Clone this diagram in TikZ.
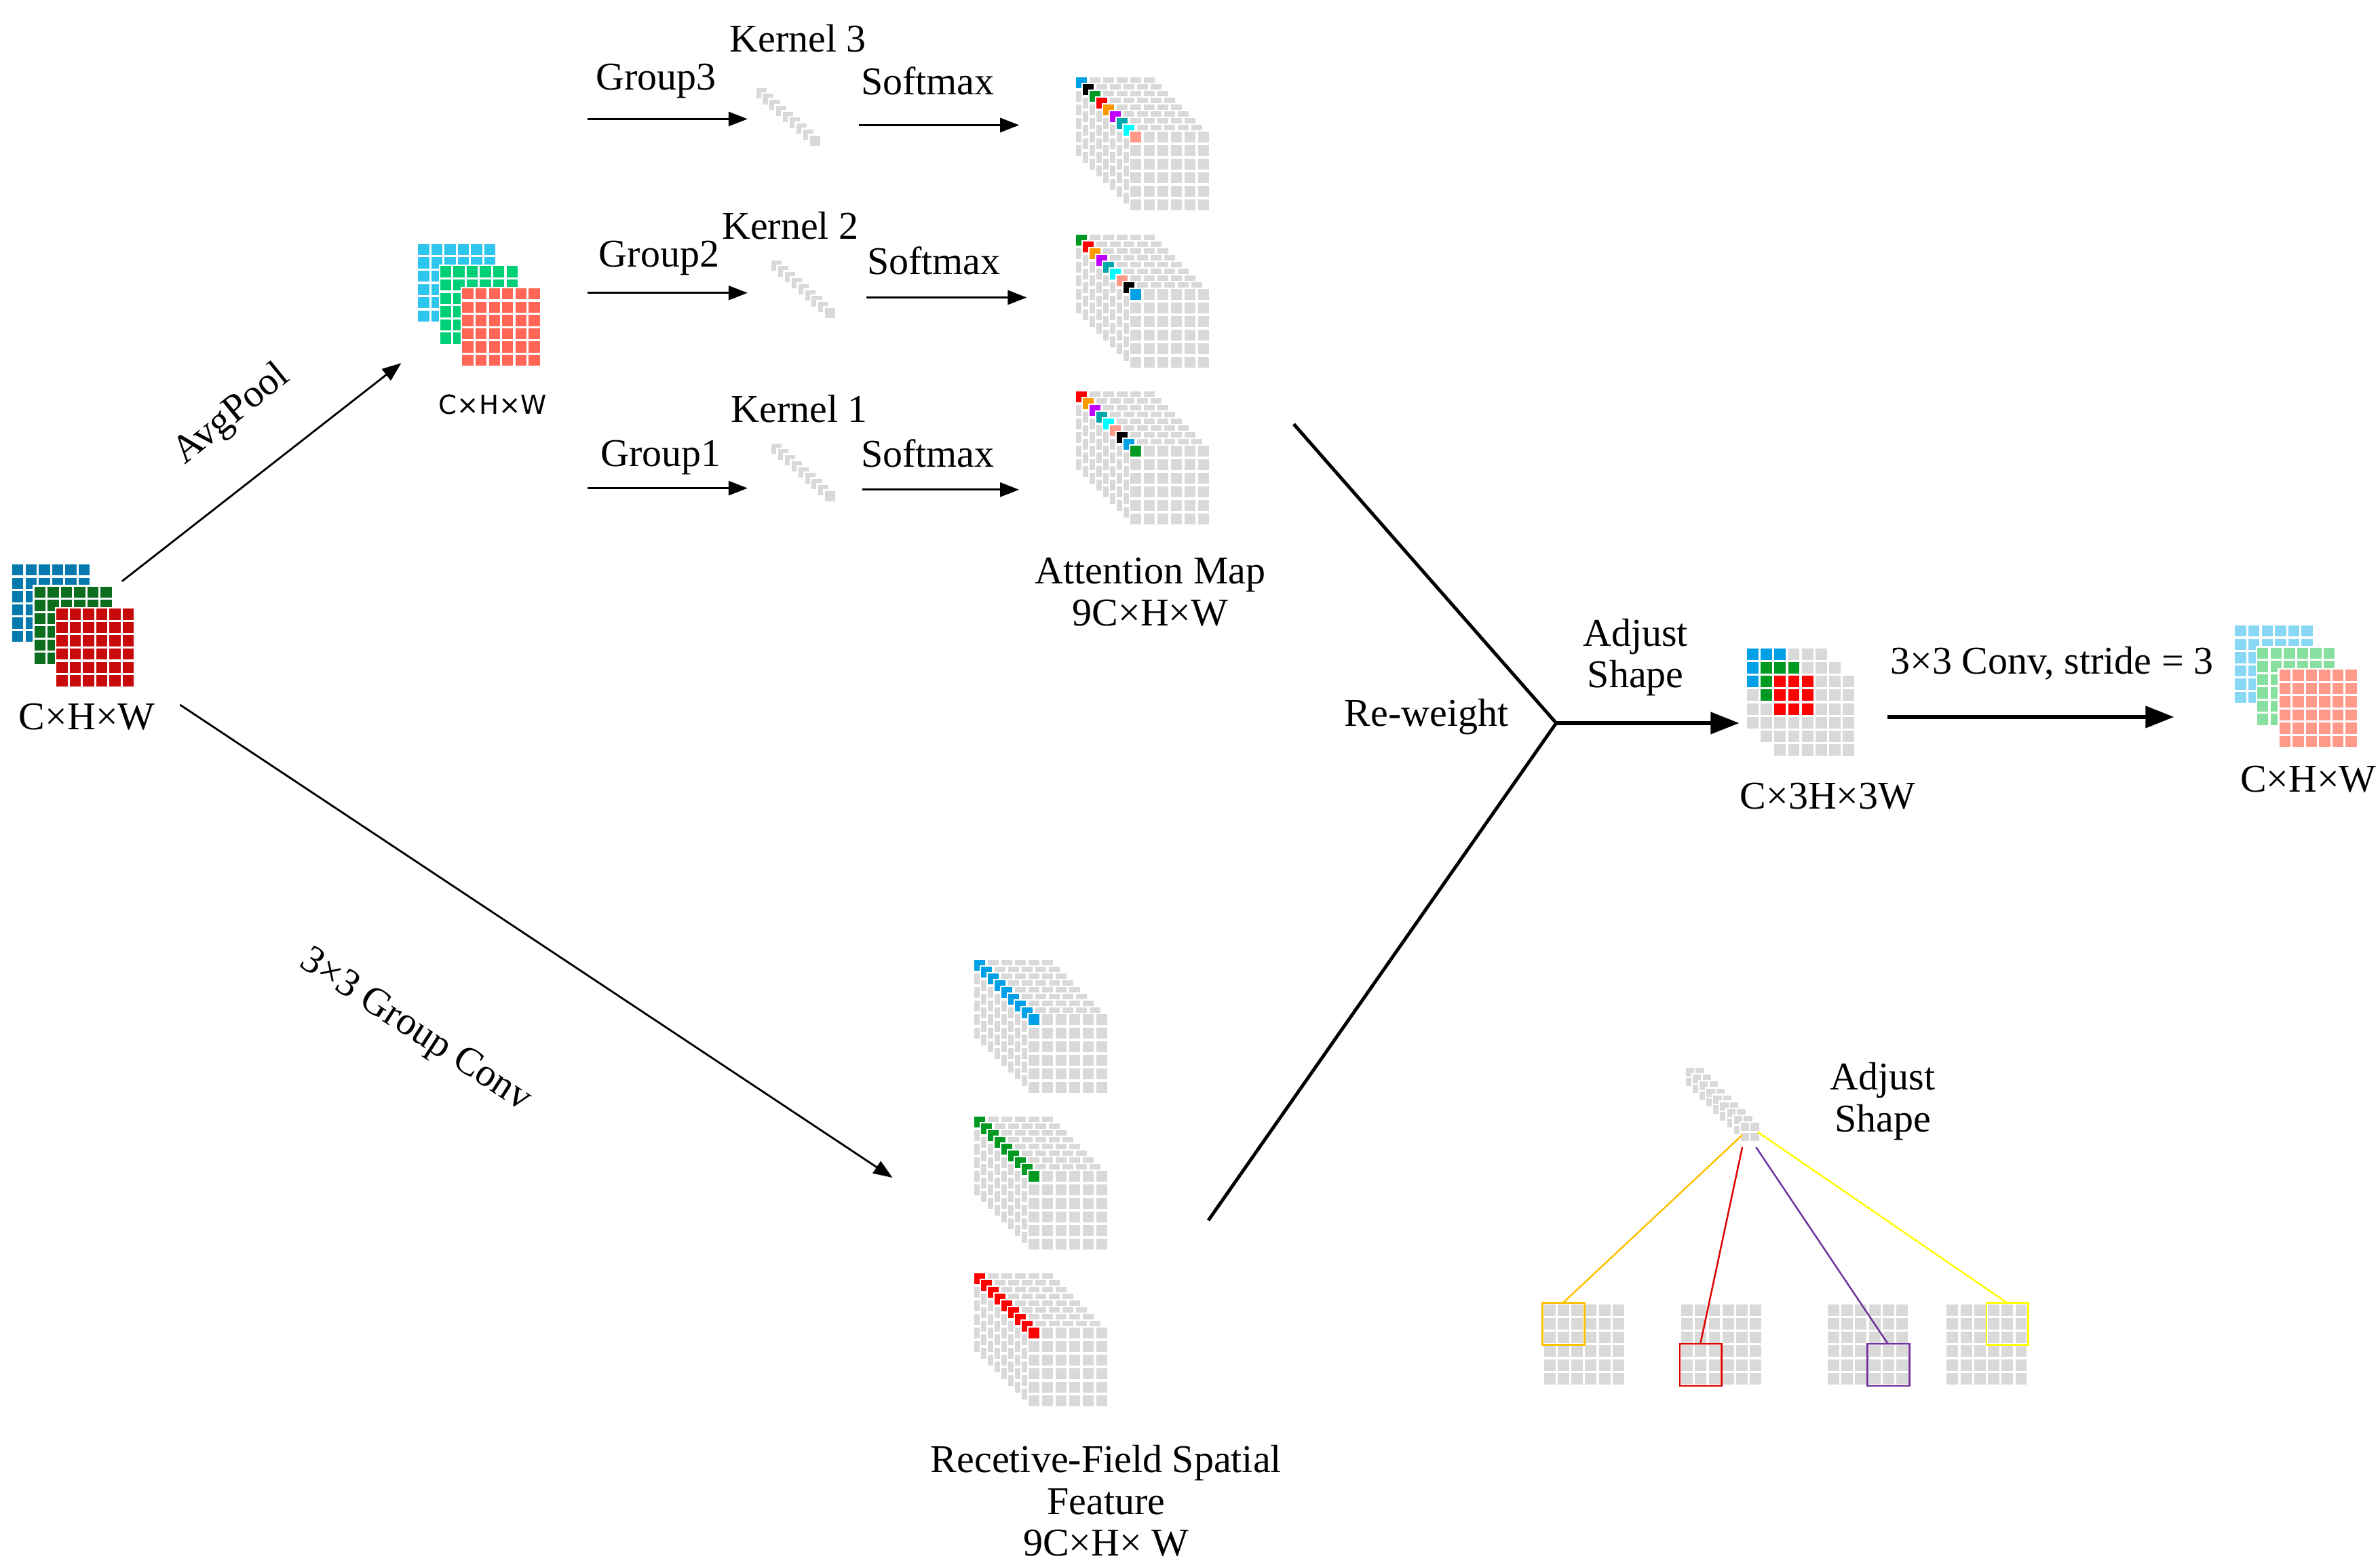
\documentclass[tikz,border=0pt]{standalone}
\usepackage{fontspec}
\setmainfont{Liberation Serif}
\newfontfamily\sansf{DejaVu Sans}
\usetikzlibrary{arrows.meta}
\definecolor{cg}{HTML}{D9D9D9}
\definecolor{cb}{HTML}{00A0E6}
\definecolor{cgr}{HTML}{009A22}
\definecolor{cr}{HTML}{FF0000}
\definecolor{co}{HTML}{FF9900}
\definecolor{cp}{HTML}{C000FF}
\definecolor{ct}{HTML}{00AAAA}
\definecolor{cc}{HTML}{00FFFF}
\definecolor{cpk}{HTML}{FF9A8A}
\definecolor{ib}{HTML}{0379AD}
\definecolor{ig}{HTML}{0A6E1E}
\definecolor{ir}{HTML}{C80A0A}
\definecolor{pb}{HTML}{2EC5EE}
\definecolor{pg}{HTML}{00D077}
\definecolor{pr}{HTML}{FF6655}
\definecolor{ob}{HTML}{88D8F5}
\definecolor{og}{HTML}{88E0A0}
\definecolor{oboxo}{HTML}{FFC000}
\definecolor{oboxr}{HTML}{E00000}
\definecolor{oboxp}{HTML}{7030A0}
\definecolor{oboxy}{HTML}{FFFF00}
% grid: x y pitch cell fill corner n
\newcommand\fmap[7]{%
  \fill[white] ({#1-1},{#2-1}) rectangle ({#1+#3*(#7-1)+#4+1},{#2+#3*(#7-1)+#4+1});
  \foreach \ii in {1,...,#7}{\foreach \jj in {1,...,#7}{
    \fill[#5] ({#1+(\ii-1)*#3},{#2+(\jj-1)*#3}) rectangle ++(#4,#4);}}
  \fill[#6] (#1,#2) rectangle ++(#4,#4);}
% nine-layer stack
\newcommand\nstack[3]{%
  \foreach \cl [count=\k from 0] in {#3}{\fmap{#1+\k*4.447}{#2+\k*4.447}{8.894}{7.115}{cg}{\cl}{6}}}
% three-layer stack
\newcommand\tstack[5]{%
  \fmap{#1}{#2}{8.7}{7.3}{#3}{#3}{6}\fmap{#1+14.5}{#2+14.5}{8.7}{7.3}{#4}{#4}{6}\fmap{#1+29}{#2+29}{8.7}{7.3}{#5}{#5}{6}}
% kernel glyph
\newcommand\kglyph[2]{%
  \foreach \k in {0,...,8}{\fill[cg,draw=white,line width=0.8pt] ({#1+\k*4.4},{#2+\k*3.9}) rectangle ++(8,8);}}
% 3x3-colored layer
\newcommand\cmap[3]{%
  \fmap{#1}{#2}{9}{7.5}{cg}{cg}{6}
  \foreach \ii in {1,2,3}{\foreach \jj in {1,2,3}{\fill[#3] ({#1+(\ii-1)*9},{#2+(\jj-1)*9}) rectangle ++(7.5,7.5);}}}
\tikzset{
  lab/.style={font=\fontsize{16.5}{17.5}\selectfont, align=center, inner sep=1pt},
  thin arr/.style={line width=0.8pt,-{Triangle[length=8pt,width=6pt]}},
  thick arr/.style={line width=1.6pt,-{Triangle[length=12pt,width=9pt]}},
  vline/.style={line width=1.4pt}
}
\begin{document}
\begin{tikzpicture}[x=0.022487cm,y=-0.022487cm]
\useasboundingbox (0,0) rectangle (1560,1025.5);
% input stack
\tstack{8}{370}{ib}{ig}{ir}
\node[lab] (in) at (57,470) {C×H×W};
\coordinate (inA) at (80,381);
\coordinate (inB) at (118,462);
% pooled
\tstack{274}{160}{pb}{pg}{pr}
\node[lab,font=\sansf\fontsize{11}{13}\selectfont] (pool) at (323,265) {C×H×W};
\coordinate (poolT) at (263,238);
\draw[thin arr] (inA) -- (poolT);
\node[lab,rotate=39] (avg) at (152,272) {AvgPool};
% groups
\coordinate (g3a) at (385,78); \coordinate (g3b) at (490,78);
\coordinate (s3a) at (563,82); \coordinate (s3b) at (668,82);
\coordinate (g2a) at (385,192); \coordinate (g2b) at (490,192);
\coordinate (s2a) at (568,195); \coordinate (s2b) at (673,195);
\coordinate (g1a) at (385,320); \coordinate (g1b) at (490,320);
\coordinate (s1a) at (565,321); \coordinate (s1b) at (668,321);
\draw[thin arr] (g3a) -- (g3b);
\draw[thin arr] (s3a) -- (s3b);
\draw[thin arr] (g2a) -- (g2b);
\draw[thin arr] (s2a) -- (s2b);
\draw[thin arr] (g1a) -- (g1b);
\draw[thin arr] (s1a) -- (s1b);
\node[lab] (gl3) at (430,53) {Group3};
\node[lab] (sl3) at (608,53) {Softmax};
\node[lab] (gl2) at (432,169) {Group2};
\node[lab] (sl2) at (612,171) {Softmax};
\node[lab] (gl1) at (433,300) {Group1};
\node[lab] (sl1) at (608,297) {Softmax};
\node[lab] (k3) at (523,25) {Kernel 3};
\node[lab] (k2) at (518,148) {Kernel 2};
\node[lab] (k1) at (524,268) {Kernel 1};
\kglyph{495}{57}
\kglyph{505}{170}
\kglyph{505}{290}
% attention maps
\nstack{705.3}{50.7}{cb,black,cgr,cr,co,cp,ct,cc,cpk}
\nstack{705.3}{153.9}{cgr,cr,co,cp,ct,cc,cpk,black,cb}
\nstack{705.3}{256.6}{cr,co,cp,ct,cc,cpk,black,cb,cgr}
\node[lab] (att) at (754,388) {Attention Map\\9C×H×W};
% group conv
\coordinate (gcB) at (585,772);
\draw[thin arr] (inB) -- (gcB);
\node[lab,rotate=-33] (gcl) at (272,676) {3×3 Group Conv};
% receptive field stacks
\nstack{638.6}{629.3}{cb,cb,cb,cb,cb,cb,cb,cb,cb}
\nstack{638.6}{732}{cgr,cgr,cgr,cgr,cgr,cgr,cgr,cgr,cgr}
\nstack{638.6}{834.7}{cr,cr,cr,cr,cr,cr,cr,cr,cr}
\node[lab] (rf) at (725,984) {Recetive-Field Spatial\\Feature\\9C×H× W};
% V lines
\coordinate (v1) at (848,278);
\coordinate (v2) at (792,800);
\coordinate (vj) at (1020,474);
\coordinate (vE) at (1140,474);
\draw[vline] (v1) -- (vj) -- (v2);
\draw[thick arr] (vj) -- (vE);
\node[lab] (rw) at (935,470) {Re-weight};
\node[lab] (adj) at (1072,431) {Adjust\\Shape};
% C x 3H x 3W
\cmap{1145}{425}{cb}
\cmap{1154}{434}{cgr}
\cmap{1163}{443}{cr}
\node[lab] (c3) at (1198,522) {C×3H×3W};
\coordinate (cvA) at (1237,470);
\coordinate (cvB) at (1425,470);
\draw[thick arr] (cvA) -- (cvB);
\node[lab] (cvl) at (1345,435) {3×3 Conv, stride = 3};
% output
\tstack{1465}{410}{ob}{og}{cpk}
\node[lab] (out) at (1513,511) {C×H×W};
% bottom right
\foreach \k in {0,...,8}{\fmap{1105+\k*4.5}{700+\k*4.5}{6.5}{5.5}{cg}{cg}{2}}
\node[lab] (adj2) at (1234,722) {Adjust\\Shape};
\fmap{1012}{855}{9}{7.5}{cg}{cg}{6}
\fmap{1102}{855}{9}{7.5}{cg}{cg}{6}
\fmap{1198}{855}{9}{7.5}{cg}{cg}{6}
\fmap{1276}{855}{9}{7.5}{cg}{cg}{6}
\draw[oboxo,line width=0.7pt] (1011,854) rectangle (1038.5,881.5);
\draw[oboxr,line width=0.7pt] (1101,881) rectangle (1128.5,908.5);
\draw[oboxp,line width=0.7pt] (1224,881) rectangle (1251.5,908.5);
\draw[oboxy,line width=0.7pt] (1302,854) rectangle (1329.5,881.5);
\coordinate (o1) at (1142,744); \coordinate (o2) at (1024.5,854);
\coordinate (r1) at (1142,752); \coordinate (r2) at (1114.5,881);
\coordinate (p1) at (1151,752); \coordinate (p2) at (1237.5,881);
\coordinate (y1) at (1152,742); \coordinate (y2) at (1315.5,854);
\draw[oboxo,line width=0.7pt] (o1) -- (o2);
\draw[oboxr,line width=0.7pt] (r1) -- (r2);
\draw[oboxp,line width=0.7pt] (p1) -- (p2);
\draw[oboxy,line width=0.7pt] (y1) -- (y2);
\end{tikzpicture}
\end{document}
